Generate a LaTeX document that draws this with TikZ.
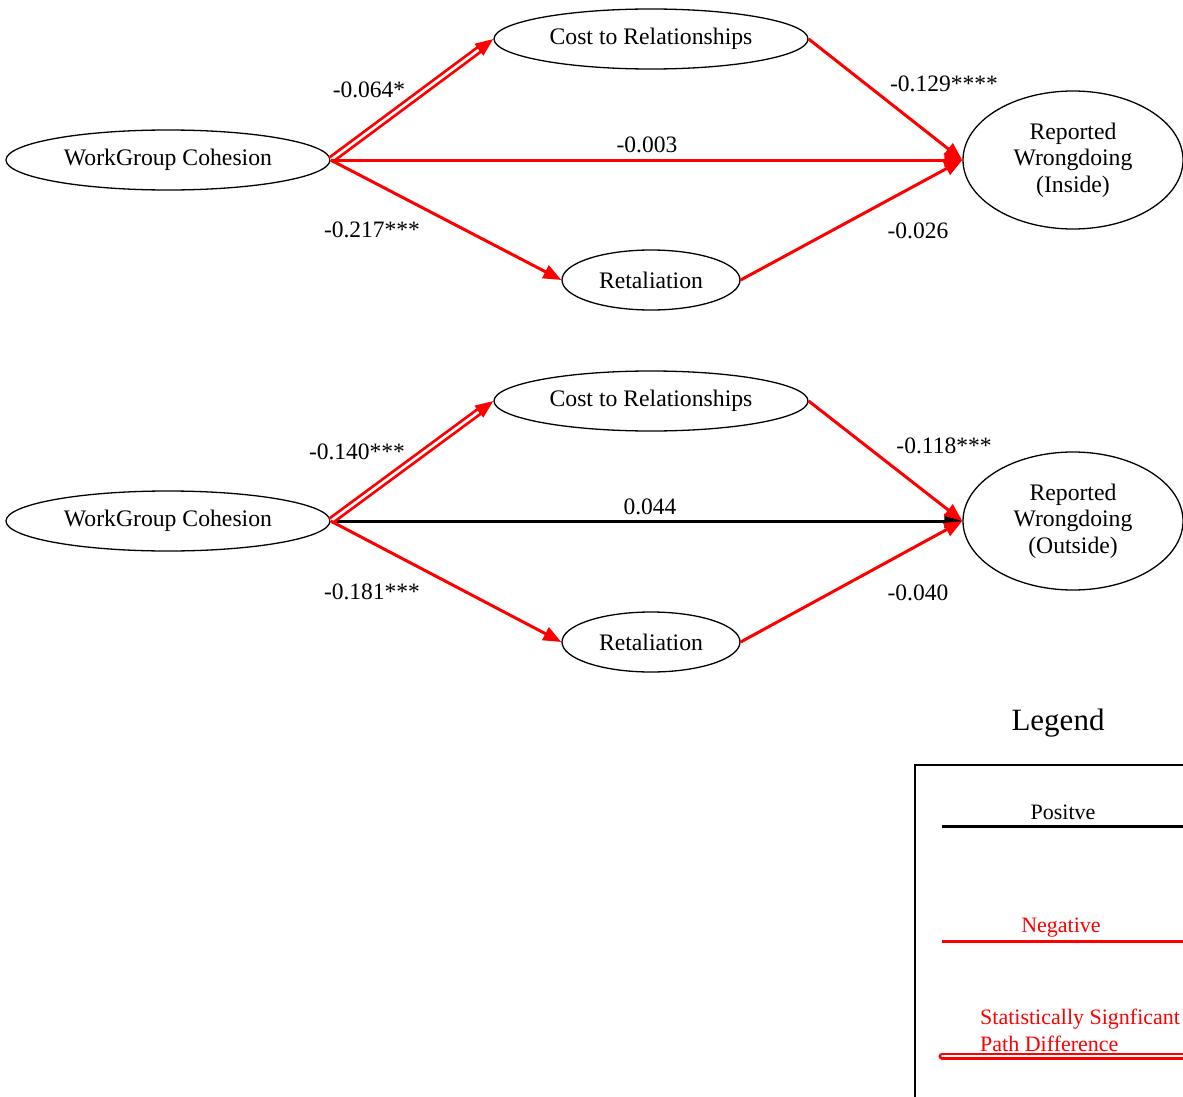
\documentclass[tikz,border=0pt]{standalone}
\usepackage{fontspec}
\setmainfont{Liberation Serif}
\usetikzlibrary{shapes.geometric,arrows.meta,calc}
\begin{document}
\begin{tikzpicture}[x=1pt,y=-1pt,
  ell/.style={ellipse,draw=black,line width=1.3pt,inner sep=0pt,align=center,font=\fontsize{23.7pt}{26.7pt}\selectfont},
  lbl/.style={font=\fontsize{23.5pt}{28pt}\selectfont,inner sep=0pt},
  leg/.style={font=\fontsize{22pt}{27pt}\selectfont,inner sep=0pt},
  tipstyle/.style={-{Triangle[length=18pt,width=14pt]}},
  redge/.style={draw=red,line width=3pt,tipstyle},
  bedge/.style={draw=black,line width=3pt,tipstyle},
  dedge/.style={draw=red,line width=2.8pt,double=white,double distance=2.6pt,shorten >=16pt},
  dtip/.style={draw=red,fill=red,line width=3pt,tipstyle}
]
\useasboundingbox (0,0) rectangle (1183,1097);
\fill[white] (0,0) rectangle (1183,1097);

% ---------- top model ----------
\node[ell,minimum width=324pt,minimum height=60pt] (w1) at (168,160) {WorkGroup Cohesion};
\node[ell,minimum width=314pt,minimum height=60pt] (c1) at (651,39) {Cost to Relationships};
\node[ell,minimum width=178pt,minimum height=60pt] (r1) at (651,280) {Retaliation};
\node[ell,minimum width=220pt,minimum height=138pt] (o1) at (1073,160) {Reported\\Wrongdoing\\(Inside)};

\draw[dedge] (w1.east) -- (c1.west);
\draw[dtip] ($(c1.west)!18pt!(w1.east)$) -- (c1.west);
\draw[redge] (w1.east) -- (o1.west);
\draw[redge] (w1.east) -- (r1.west);
\draw[redge] (c1.east) -- (o1.west);
\draw[redge] (r1.east) -- (o1.west);

\node[lbl] (l1) at (369,90) {-0.064*};
\node[lbl] (l2) at (944,84) {-0.129****};
\node[lbl] (l3) at (647,145) {-0.003};
\node[lbl] (l4) at (372,230) {-0.217***};
\node[lbl] (l5) at (918,231) {-0.026};

% ---------- bottom model ----------
\node[ell,minimum width=324pt,minimum height=60pt] (w2) at (168,521) {WorkGroup Cohesion};
\node[ell,minimum width=314pt,minimum height=60pt] (c2) at (651,401) {Cost to Relationships};
\node[ell,minimum width=178pt,minimum height=60pt] (r2) at (651,642) {Retaliation};
\node[ell,minimum width=220pt,minimum height=138pt] (o2) at (1073,521) {Reported\\Wrongdoing\\(Outside)};

\draw[bedge] (w2.east) -- (o2.west);
\draw[dedge] (w2.east) -- (c2.west);
\draw[dtip] ($(c2.west)!18pt!(w2.east)$) -- (c2.west);
\draw[redge] (w2.east) -- (r2.west);
\draw[redge] (c2.east) -- (o2.west);
\draw[redge] (r2.east) -- (o2.west);

\node[lbl] (m1) at (357,452) {-0.140***};
\node[lbl] (m2) at (944,446) {-0.118***};
\node[lbl] (m3) at (650,507) {0.044};
\node[lbl] (m4) at (372,592) {-0.181***};
\node[lbl] (m5) at (918,593) {-0.040};

% ---------- legend ----------
\node[font=\fontsize{31pt}{36pt}\selectfont,inner sep=0pt] (legt) at (1058,723) {Legend};
\draw[line width=2pt] (915,1120) -- (915,765) -- (1210,765);
\node[leg] (lp) at (1063,812) {Positve};
\draw[line width=3pt] (942,826) -- (1210,826);
\node[leg,text=red] (ln) at (1061,928) {Negative};
\draw[red,line width=3pt] (942,941) -- (1210,941);
\node[leg,text=red,align=left,anchor=west] (ls) at (980,1030) {Statistically Signficant\\Path Difference};
\draw[red,line width=2.6pt,double=white,double distance=1.8pt,line cap=round] (942,1056) -- (1210,1056);
\end{tikzpicture}
\end{document}
